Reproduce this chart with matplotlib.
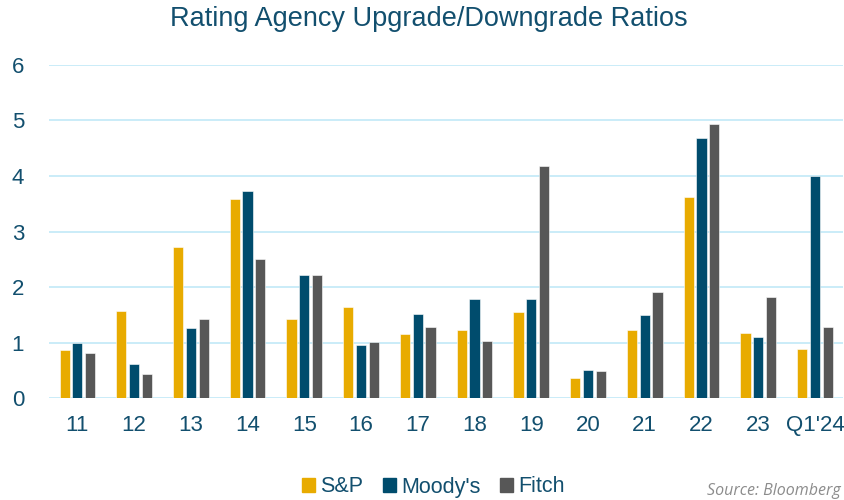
import numpy as np
import matplotlib.pyplot as plt
from matplotlib.patches import Patch

plt.rcParams['font.family'] = ['Liberation Sans', 'DejaVu Sans']

categories = ['11', '12', '13', '14', '15', '16', '17', '18', '19', '20', '21', '22', '23', "Q1'24"]
sp = [0.87, 1.57, 2.73, 3.59, 1.42, 1.65, 1.16, 1.23, 1.56, 0.37, 1.23, 3.62, 1.18, 0.89]
moodys = [0.99, 0.62, 1.27, 3.72, 2.21, 0.95, 1.52, 1.79, 1.79, 0.51, 1.50, 4.68, 1.10, 4.00]
fitch = [0.82, 0.44, 1.43, 2.50, 2.22, 1.01, 1.28, 1.03, 4.17, 0.49, 1.91, 4.94, 1.83, 1.29]

series = [('S&P', sp, '#E8AB00'), ("Moody's", moodys, '#004C6D'), ('Fitch', fitch, '#575757')]
text_color = '#124F6E'

fig = plt.figure(figsize=(8.45, 5), dpi=100)
ax = fig.add_axes([0.058, 0.2034, 0.94, 0.6672])

x = np.arange(len(categories))
width = 0.18
for i, (name, vals, color) in enumerate(series):
    ax.bar(x + (i - 1) * 0.225, vals, width, color=color, edgecolor='white',
           linewidth=0.4, zorder=3, label=name)

ax.set_xlim(-0.5, len(categories) - 0.5)
ax.set_ylim(0, 6)
ax.set_yticks(range(7))
ax.set_xticks(x)
ax.set_xticklabels(categories)
ax.grid(axis='y', color='#C6EAF8', linewidth=1.3, zorder=0)
for s in ax.spines.values():
    s.set_visible(False)
ax.tick_params(axis='both', length=0, labelsize=16, labelcolor=text_color)
ax.tick_params(axis='y', pad=18)
ax.tick_params(axis='x', pad=12)

fig.text(0.507, 0.963, 'Rating Agency Upgrade/Downgrade Ratios', ha='center', va='center',
         fontsize=19.5, color=text_color)

handles = [Patch(color=c, label=n) for n, _, c in series]
fig.legend(handles=handles, loc='center', bbox_to_anchor=(0.513, 0.026), ncol=3, frameon=False,
           fontsize=15.5, handlelength=0.6, handleheight=0.6, handletextpad=0.25,
           columnspacing=0.9, labelcolor=text_color, borderpad=0.1)

fig.text(0.995, 0.002, 'Source: Bloomberg', ha='right', va='bottom', fontsize=11.5,
         style='italic', color='#8C8C8C', family=['Open Sans', 'DejaVu Sans'])

fig.savefig('out.png', dpi=100)
